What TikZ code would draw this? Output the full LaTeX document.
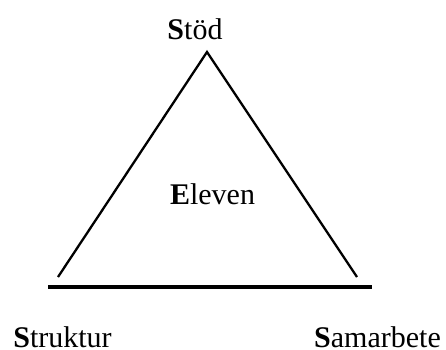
\documentclass[tikz,border=0pt]{standalone}
\usepackage{fontspec}
\setmainfont{Liberation Serif}

\tikzstyle{every node}=[font=\fontsize{30pt}{36pt}\selectfont, inner sep=0pt]

\begin{document}
\begin{tikzpicture}[x=1pt, y=1pt]
		            % Ram
		            \useasboundingbox (0,0) rectangle (446,349);

		            % Hörn
		            \coordinate (topp) at (207,297);
		            \coordinate (vanster) at (58,72);
		            \coordinate (hoger) at (357,72);
		            \coordinate (basA) at (48,62);
		            \coordinate (basB) at (372,62);

		            % Triangel och bas
		            \draw[line width=2.3pt] (vanster) -- (topp) -- (hoger);
		            \draw[line width=4pt] (basA) -- (basB);

		            % Texter
		            \node[anchor=base] (stod) at (195,309) {\textbf{S}töd};
		            \node[anchor=base] (eleven) at (212.5,145) {\textbf{E}leven};
		            \node[anchor=base] (struktur) at (62.5,2) {\textbf{S}truktur};
		            \node[anchor=base] (samarbete) at (377.5,2) {\textbf{S}amarbete};
		        \end{tikzpicture}
\end{document}
